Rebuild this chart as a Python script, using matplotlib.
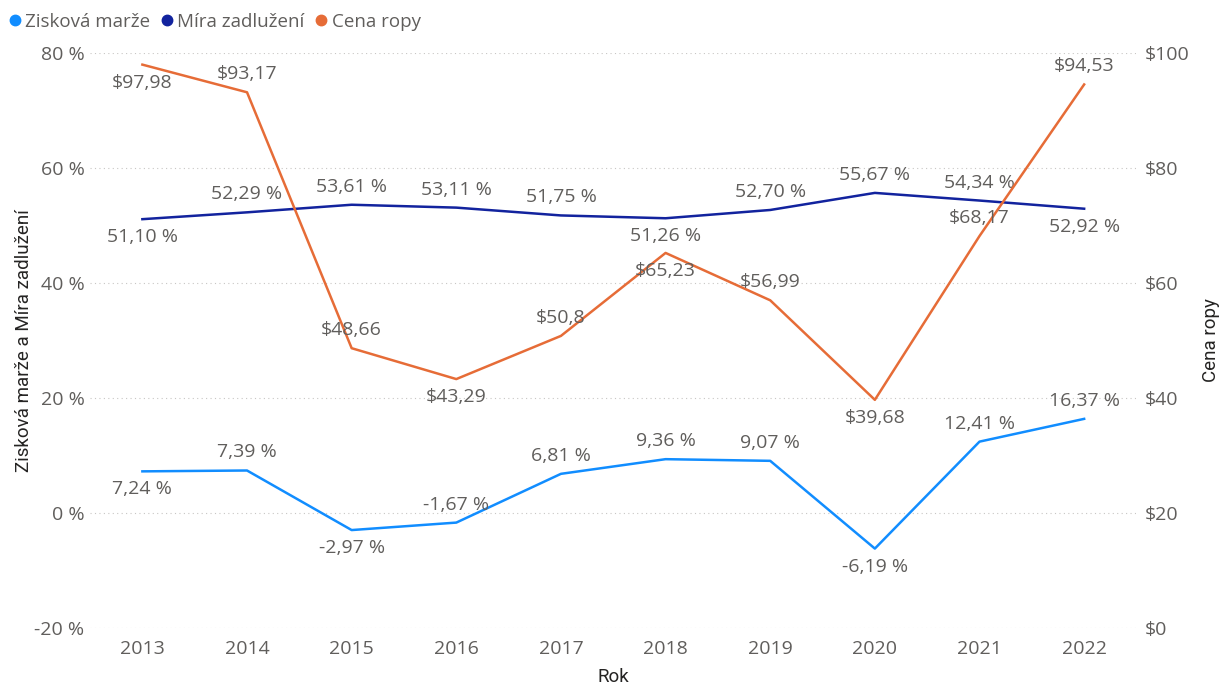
import matplotlib.pyplot as plt
from matplotlib.lines import Line2D

# Data
years = [2013, 2014, 2015, 2016, 2017, 2018, 2019, 2020, 2021, 2022]
ziskova_marze = [7.24, 7.39, -2.97, -1.67, 6.81, 9.36, 9.07, -6.19, 12.41, 16.37]
mira_zadluzeni = [51.10, 52.29, 53.61, 53.11, 51.75, 51.26, 52.70, 55.67, 54.34, 52.92]
cena_ropy = [97.98, 93.17, 48.66, 43.29, 50.8, 65.23, 56.99, 39.68, 68.17, 94.53]

# label placement: 1 above the point, -1 below
pos_zisk = [-1, 1, -1, 1, 1, 1, 1, -1, 1, 1]
pos_mira = [-1, 1, 1, 1, 1, -1, 1, 1, 1, -1]
pos_cena = [-1, 1, 1, -1, 1, -1, 1, -1, 1, 1]

c_zisk = '#118DFF'
c_mira = '#12239E'
c_cena = '#E66C37'
grey = '#605E5C'
dark = '#252423'
fs = 14

plt.rcParams['font.family'] = ['Open Sans', 'DejaVu Sans']

fig = plt.figure(figsize=(12.22, 6.84), dpi=100)
ax = fig.add_axes([0.0737, 0.0819, 0.8563, 0.8406])
ax2 = ax.twinx()

ax.plot(years, ziskova_marze, color=c_zisk, lw=1.8, zorder=3)
ax.plot(years, mira_zadluzeni, color=c_mira, lw=1.8, zorder=3)
ax2.plot(years, cena_ropy, color=c_cena, lw=1.8, zorder=3)


def fmt_pct(v):
    return ('%.2f %%' % v).replace('.', ',')


def fmt_usd(v):
    s = ('%.2f' % v).rstrip('0').rstrip('.')
    return '$' + s.replace('.', ',')


for x, v, p in zip(years, ziskova_marze, pos_zisk):
    ax.annotate(fmt_pct(v), (x, v), xytext=(0, 18 * p), textcoords='offset pixels',
                ha='center', va='center', fontsize=fs, color=grey, zorder=5)
for x, v, p in zip(years, mira_zadluzeni, pos_mira):
    ax.annotate(fmt_pct(v), (x, v), xytext=(0, 18 * p), textcoords='offset pixels',
                ha='center', va='center', fontsize=fs, color=grey, zorder=5)
for x, v, p in zip(years, cena_ropy, pos_cena):
    ax2.annotate(fmt_usd(v), (x, v), xytext=(0, 18 * p), textcoords='offset pixels',
                 ha='center', va='center', fontsize=fs, color=grey, zorder=5)

ax.set_xlim(2012.5, 2022.5)
ax.set_ylim(-20, 80)
ax2.set_ylim(0, 100)
ax.set_xticks(years)
ax.set_xticklabels([str(y) for y in years])
ax.set_yticks([-20, 0, 20, 40, 60, 80])
ax.set_yticklabels(['%d %%' % t for t in [-20, 0, 20, 40, 60, 80]])
ax2.set_yticks([0, 20, 40, 60, 80, 100])
ax2.set_yticklabels(['$%d' % t for t in [0, 20, 40, 60, 80, 100]])

ax.grid(axis='y', color='#C8C6C4', linestyle=(0, (1, 3)), lw=0.8)
ax.set_axisbelow(True)
for a in (ax, ax2):
    for s in a.spines.values():
        s.set_visible(False)
    a.tick_params(length=0, labelsize=fs, labelcolor=grey)
ax.tick_params(axis='x', pad=9)
ax.tick_params(axis='y', pad=4)
ax2.tick_params(axis='y', pad=6)

tfont = ['Roboto', 'DejaVu Sans']
ax.set_xlabel('Rok', fontsize=13.5, color=dark, family=tfont, labelpad=7)
ax.set_ylabel('Zisková marže a Míra zadlužení', fontsize=13.5, color=dark,
              family=tfont, labelpad=1)
ax2.set_ylabel('Cena ropy', fontsize=13.5, color=dark, family=tfont, labelpad=9)

handles = [Line2D([], [], marker='o', ls='', color=c, markersize=7.5) for c in (c_zisk, c_mira, c_cena)]
fig.legend(handles, ['Zisková marže', 'Míra zadlužení', 'Cena ropy'], loc='upper left',
           bbox_to_anchor=(-0.005, 0.998), ncol=3, frameon=False, fontsize=13.5,
           labelcolor=grey, handletextpad=0.05, columnspacing=0.4, handlelength=1.0,
           borderaxespad=0.2)

fig.savefig('out.png', dpi=100)
